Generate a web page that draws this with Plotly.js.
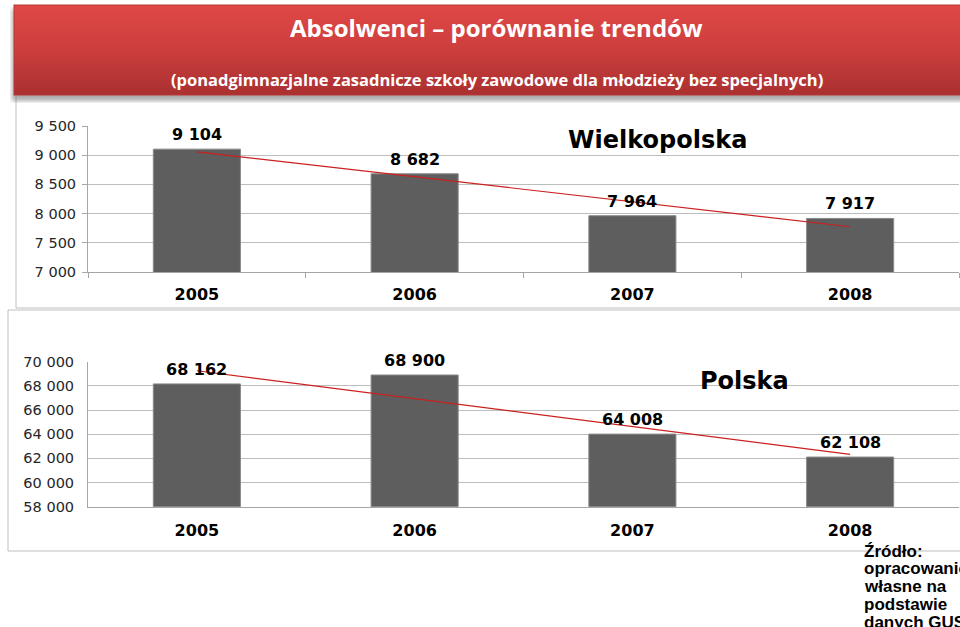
<!DOCTYPE html>
<html><head><meta charset="utf-8">
<script src="https://cdn.plot.ly/plotly-3.0.1.min.js"></script>
<style>html,body{margin:0;padding:0;background:#fff;overflow:hidden}#chart{width:960px;height:627px}</style>
</head><body><div id="chart"></div>
<script>
const years = ['2005', '2006', '2007', '2008'];
const wielkopolska = [9104, 8682, 7964, 7917];
const polska = [68162, 68900, 64008, 62108];
const yTicks1 = [7000, 7500, 8000, 8500, 9000, 9500];
const yTicks2 = [58000, 60000, 62000, 64000, 66000, 68000, 70000];
const titleText = 'Absolwenci – porównanie trendów';
const subtitleText = '(ponadgimnazjalne zasadnicze szkoły zawodowe dla młodzieży bez specjalnych)';
const label1 = 'Wielkopolska';
const label2 = 'Polska';
const sourceLines = ['Źródło:', 'opracowanie', 'własne na', 'podstawie', 'danych GUS'];

const W = 960, H = 627;
const px = x => x / W;
const py = y => 1 - y / H;
const fmt = v => String(v).replace(/\B(?=(\d{3})+(?!\d))/g, ' ');

// Linear trendline (least squares over category index), evaluated at first and last category
function trend(vals) {
  const n = vals.length;
  const xs = vals.map((_, i) => i + 1);
  const mx = xs.reduce((a, b) => a + b, 0) / n;
  const my = vals.reduce((a, b) => a + b, 0) / n;
  let sxy = 0, sxx = 0;
  for (let i = 0; i < n; i++) { sxy += (xs[i] - mx) * (vals[i] - my); sxx += (xs[i] - mx) ** 2; }
  const b = sxy / sxx, a = my - b * mx;
  return [a + b * xs[0], a + b * xs[n - 1]];
}

const gridCol = '#bdbdbd', axCol = '#a6a6a6';
const barMarker = { color: '#5e5e5e', line: { color: '#8a8a8a', width: 1 } };
const lblFont = { family: 'DejaVu Sans', size: 16, color: '#000', weight: 'bold' };
const tickFont = { family: 'DejaVu Sans', size: 14.5, color: '#262626' };

const traces = [
  { type: 'bar', x: years, y: wielkopolska, xaxis: 'x', yaxis: 'y', marker: barMarker, hoverinfo: 'skip', width: 0.4 },
  { type: 'scatter', mode: 'lines', x: [years[0], years[years.length - 1]], y: trend(wielkopolska), xaxis: 'x', yaxis: 'y', line: { color: '#cc1f1f', width: 1.2 }, hoverinfo: 'skip' },
  { type: 'bar', x: years, y: polska, xaxis: 'x2', yaxis: 'y2', marker: barMarker, hoverinfo: 'skip', width: 0.4 },
  { type: 'scatter', mode: 'lines', x: [years[0], years[years.length - 1]], y: trend(polska), xaxis: 'x2', yaxis: 'y2', line: { color: '#cc1f1f', width: 1.2 }, hoverinfo: 'skip' }
];

const annotations = [];
years.forEach((yr, i) => {
  annotations.push({ xref: 'x', yref: 'y', x: i, y: wielkopolska[i], text: fmt(wielkopolska[i]), showarrow: false, xanchor: 'center', yanchor: 'bottom', yshift: 3, font: lblFont });
  annotations.push({ xref: 'x2', yref: 'y2', x: i, y: polska[i], text: fmt(polska[i]), showarrow: false, xanchor: 'center', yanchor: 'bottom', yshift: 3, font: lblFont });
});
annotations.push(
  { xref: 'paper', yref: 'paper', x: px(496), y: py(27), xanchor: 'center', yanchor: 'middle', text: titleText, showarrow: false, font: { family: 'Open Sans', size: 24, color: '#fff', weight: 'bold' } },
  { xref: 'paper', yref: 'paper', x: px(497), y: py(80), xanchor: 'center', yanchor: 'middle', text: subtitleText, showarrow: false, font: { family: 'Open Sans', size: 16.5, color: '#fff', weight: 'bold' } },
  { xref: 'paper', yref: 'paper', x: px(657), y: py(140), xanchor: 'center', yanchor: 'middle', text: label1, showarrow: false, font: { family: 'DejaVu Sans', size: 24, color: '#000', weight: 'bold' } },
  { xref: 'paper', yref: 'paper', x: px(744), y: py(381), xanchor: 'center', yanchor: 'middle', text: label2, showarrow: false, font: { family: 'DejaVu Sans', size: 24, color: '#000', weight: 'bold' } }
);
sourceLines.forEach((ln, i) => {
  annotations.push({ xref: 'paper', yref: 'paper', x: px(862), y: py(551 + i * 17.8), xanchor: 'left', yanchor: 'middle', align: 'left', text: ln, showarrow: false, font: { family: 'Liberation Sans', size: 17, color: '#000', weight: 'bold' } });
});

const bannerSvg = "<svg xmlns='http://www.w3.org/2000/svg' width='960' height='100' viewBox='0 0 960 100' preserveAspectRatio='none'>" +
  "<defs><linearGradient id='g' x1='0' y1='0' x2='0' y2='1'><stop offset='0' stop-color='#df4846'/><stop offset='0.5' stop-color='#cc3e3d'/><stop offset='1' stop-color='#aa3030'/></linearGradient>" +
  "<filter id='b' x='-5%' y='-20%' width='110%' height='150%'><feGaussianBlur stdDeviation='2'/></filter></defs>" +
  "<rect x='2' y='6' width='980' height='92' fill='#777' opacity='0.6' filter='url(#b)'/>" +
  "<rect x='4' y='2' width='980' height='90' fill='url(#g)' stroke='#b83838' stroke-width='1'/></svg>";

const layout = {
  width: W, height: H,
  margin: { l: 0, r: 0, t: 0, b: 0 },
  paper_bgcolor: '#fff', plot_bgcolor: 'rgba(0,0,0,0)',
  showlegend: false,
  separators: ', ',
  bargap: 0.6,
  xaxis: {
    domain: [px(88), px(959)], anchor: 'y', type: 'category', range: [-0.5, 3.5], showline: true, linecolor: axCol,
    ticks: 'outside', tickson: 'boundaries', ticklen: 5, tickcolor: axCol, showgrid: false,
    tickfont: lblFont, ticklabelstandoff: 8, fixedrange: true
  },
  yaxis: {
    domain: [py(272), py(126)], anchor: 'x', range: [7000, 9500], tickvals: yTicks1, ticktext: yTicks1.map(fmt),
    showline: true, linecolor: axCol, gridcolor: gridCol, ticks: 'outside', ticklen: 5, tickcolor: axCol,
    zeroline: false, tickfont: tickFont, ticklabelstandoff: 3, fixedrange: true
  },
  xaxis2: {
    domain: [px(88), px(959)], anchor: 'y2', type: 'category', range: [-0.5, 3.5], showline: true, linecolor: axCol,
    ticks: '', showgrid: false, tickfont: lblFont, ticklabelstandoff: 9, fixedrange: true
  },
  yaxis2: {
    domain: [py(506.7), py(361.7)], anchor: 'x2', range: [58000, 70000], tickvals: yTicks2, ticktext: yTicks2.map(fmt),
    showline: true, linecolor: axCol, gridcolor: gridCol, ticks: '', zeroline: false,
    tickfont: tickFont, ticklabelstandoff: 10, fixedrange: true
  },
  shapes: [
    { type: 'rect', xref: 'paper', yref: 'paper', x0: px(16), x1: px(975), y0: py(75), y1: py(308), line: { color: '#bfbfbf', width: 1 }, fillcolor: '#fff', layer: 'below' },
    { type: 'rect', xref: 'paper', yref: 'paper', x0: px(8), x1: px(975), y0: py(310), y1: py(551), line: { color: '#bfbfbf', width: 1 }, fillcolor: '#fff', layer: 'below' }
  ],
  images: [{
    source: 'data:image/svg+xml;charset=utf-8,' + encodeURIComponent(bannerSvg),
    xref: 'paper', yref: 'paper', x: px(10), y: py(3), sizex: 1, sizey: 100 / H,
    xanchor: 'left', yanchor: 'top', sizing: 'stretch', layer: 'above'
  }],
  annotations: annotations
};

Plotly.newPlot('chart', traces, layout, { staticPlot: true, displayModeBar: false });
</script>
</body></html>
